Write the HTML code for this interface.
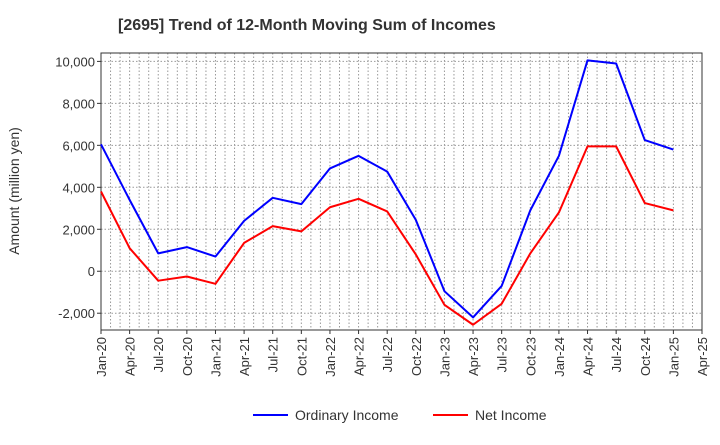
<!DOCTYPE html>
<html><head><meta charset="utf-8"><style>
body{margin:0;background:#fff;font-family:"Liberation Sans",sans-serif;}
</style></head><body>
<svg id="chart" width="720" height="440" xmlns="http://www.w3.org/2000/svg">
<text x="118" y="30" text-anchor="start" font-size="16" font-weight="bold" fill="#333">[2695]  Trend of 12-Month Moving Sum of Incomes</text>
<g id="grid"></g><g id="axes"></g><g id="series"></g>
<text transform="translate(19,191) rotate(-90)" text-anchor="middle" font-size="14" fill="#333">Amount (million yen)</text>
<g>
<g><line x1="253" y1="415" x2="288" y2="415" stroke="#0000ff" stroke-width="2"/><text x="295" y="420" font-size="14" fill="#333">Ordinary Income</text></g>
<g><line x1="433" y1="415" x2="468" y2="415" stroke="#ff0000" stroke-width="2"/><text x="475" y="420" font-size="14" fill="#333">Net Income</text></g>
</g>
</svg>
<script>
const categories=["Jan-20","Apr-20","Jul-20","Oct-20","Jan-21","Apr-21","Jul-21","Oct-21","Jan-22","Apr-22","Jul-22","Oct-22","Jan-23","Apr-23","Jul-23","Oct-23","Jan-24","Apr-24","Jul-24","Oct-24","Jan-25","Apr-25"];
const ordinaryIncome=[6050,3400,850,1150,700,2400,3500,3200,4900,5500,4750,2450,-950,-2200,-700,2900,5500,10050,9900,6250,5800];
const netIncome=[3800,1100,-450,-250,-600,1350,2150,1900,3050,3450,2850,800,-1600,-2550,-1550,850,2800,5950,5950,3250,2900];
const yTicks=[-2000,0,2000,4000,6000,8000,10000];
const yTickLabels=["-2,000","0","2,000","4,000","6,000","8,000","10,000"];
const NS="http://www.w3.org/2000/svg";
const L=101,R=702,T=53,B=330,yMin=-2800,yMax=10400;
const x=i=>L+(R-L)*i/(categories.length-1);
const y=v=>B-(v-yMin)/(yMax-yMin)*(B-T);
function mk(tag,attrs,parent){const e=document.createElementNS(NS,tag);for(const k in attrs)e.setAttribute(k,attrs[k]);parent.appendChild(e);return e;}
const grid=document.getElementById('grid'),axes=document.getElementById('axes'),series=document.getElementById('series');
const nMinor=(categories.length-1)*3;
for(let j=1;j<nMinor;j++){const xx=L+(R-L)*j/nMinor;const g=mk('line',{x1:xx,x2:xx,y1:T,y2:B,stroke:'#999','stroke-dasharray':'1.5,2','stroke-width':1},grid);

}
yTicks.forEach((v,i)=>{const g=mk('line',{x1:L,x2:R,y1:y(v),y2:y(v),stroke:'#999','stroke-dasharray':'1.5,2'},grid);


const t=mk('text',{x:L-6,y:y(v)+5,'text-anchor':'end','font-size':13,fill:'#333'},axes);t.textContent=yTickLabels[i];


mk('line',{x1:L-4,x2:L,y1:y(v),y2:y(v),stroke:'#333'},axes);});
const frame=mk('rect',{x:L,y:T,width:R-L,height:B-T,fill:'none',stroke:'#333','stroke-width':1},axes);


categories.forEach((c,i)=>{mk('line',{x1:x(i),x2:x(i),y1:B,y2:B+4,stroke:'#333'},axes);
const t=mk('text',{transform:`translate(${x(i)+5},${B+7}) rotate(-90)`,'text-anchor':'end','font-size':13,fill:'#333'},axes);t.textContent=c;

});
function line(data,color,name){const p=mk('polyline',{points:data.map((v,i)=>x(i)+','+y(v)).join(' '),fill:'none',stroke:color,'stroke-width':2,'stroke-linejoin':'round'},series);

}
line(ordinaryIncome,'#0000ff','ordinary-income-line');
line(netIncome,'#ff0000','net-income-line');
</script>
</body></html>
